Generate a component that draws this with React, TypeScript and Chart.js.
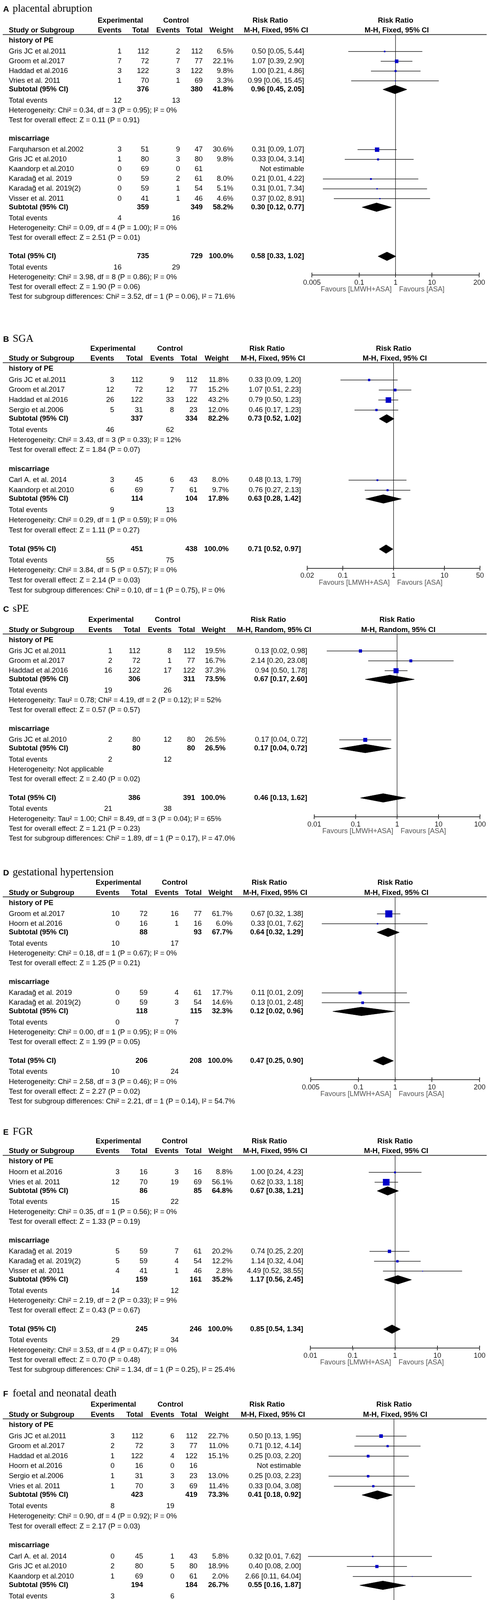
import React, { useEffect, useRef } from 'react';
import { Chart, registerables } from 'chart.js';

Chart.register(...registerables);

const W = 1251;
const SANS = '"Liberation Sans", Arial, Helvetica, sans-serif';
const SERIF = '"Liberation Serif", "Times New Roman", serif';

// Study row: name, exp events, exp total, ctl events, ctl total, weight %, RR, lower, upper
type Study = [string, number, number, number, number, number | null, number | null, number | null, number | null];
// Subtotal: exp total, ctl total, weight %, RR, lower, upper
type Sub = [number, number, number, number, number, number];

const groupNames = ['history of PE', 'miscarriage'];

// ---------- A placental abruption ----------
const aStudies: Study[][] = [
  [
    ['Gris JC et al.2011', 1, 112, 2, 112, 6.5, 0.5, 0.05, 5.44],
    ['Groom et al.2017', 7, 72, 7, 77, 22.1, 1.07, 0.39, 2.9],
    ['Haddad et al.2016', 3, 122, 3, 122, 9.8, 1.0, 0.21, 4.86],
    ['Vries et al. 2011', 1, 70, 1, 69, 3.3, 0.99, 0.06, 15.45],
  ],
  [
    ['Farquharson et al.2002', 3, 51, 9, 47, 30.6, 0.31, 0.09, 1.07],
    ['Gris JC et al.2010', 1, 80, 3, 80, 9.8, 0.33, 0.04, 3.14],
    ['Kaandorp et al.2010', 0, 69, 0, 61, null, null, null, null],
    ['Karadağ et al. 2019', 0, 59, 2, 61, 8.0, 0.21, 0.01, 4.22],
    ['Karadağ et al. 2019(2)', 0, 59, 1, 54, 5.1, 0.31, 0.01, 7.34],
    ['Visser et al. 2011', 0, 41, 1, 46, 4.6, 0.37, 0.02, 8.91],
  ],
];
const aSubtotals: Sub[] = [[376, 380, 41.8, 0.96, 0.45, 2.05], [359, 349, 58.2, 0.3, 0.12, 0.77]];
const aSubEvents = [[12, 13], [4, 16]];
const aSubHet = ['Heterogeneity: Chi² = 0.34, df = 3 (P = 0.95); I² = 0%', 'Heterogeneity: Chi² = 0.09, df = 4 (P = 1.00); I² = 0%'];
const aSubTest = ['Test for overall effect: Z = 0.11 (P = 0.91)', 'Test for overall effect: Z = 2.51 (P = 0.01)'];
const aTotal: Sub = [735, 729, 100, 0.58, 0.33, 1.02];
const aTotalEvents = [16, 29];
const aTotalText = ['Heterogeneity: Chi² = 3.98, df = 8 (P = 0.86); I² = 0%', 'Test for overall effect: Z = 1.90 (P = 0.06)', 'Test for subgroup differences: Chi² = 3.52, df = 1 (P = 0.06), I² = 71.6%'];
const aTicks = [0.005, 0.1, 1, 10, 200];
const aTickLabels = ['0.005', '0.1', '1', '10', '200'];

// ---------- B SGA ----------
const bStudies: Study[][] = [
  [
    ['Gris JC et al.2011', 3, 112, 9, 112, 11.8, 0.33, 0.09, 1.2],
    ['Groom et al.2017', 12, 72, 12, 77, 15.2, 1.07, 0.51, 2.23],
    ['Haddad et al.2016', 26, 122, 33, 122, 43.2, 0.79, 0.5, 1.23],
    ['Sergio et al.2006', 5, 31, 8, 23, 12.0, 0.46, 0.17, 1.23],
  ],
  [
    ['Carl A. et al. 2014', 3, 45, 6, 43, 8.0, 0.48, 0.13, 1.79],
    ['Kaandorp et al.2010', 6, 69, 7, 61, 9.7, 0.76, 0.27, 2.13],
  ],
];
const bSubtotals: Sub[] = [[337, 334, 82.2, 0.73, 0.52, 1.02], [114, 104, 17.8, 0.63, 0.28, 1.42]];
const bSubEvents = [[46, 62], [9, 13]];
const bSubHet = ['Heterogeneity: Chi² = 3.43, df = 3 (P = 0.33); I² = 12%', 'Heterogeneity: Chi² = 0.29, df = 1 (P = 0.59); I² = 0%'];
const bSubTest = ['Test for overall effect: Z = 1.84 (P = 0.07)', 'Test for overall effect: Z = 1.11 (P = 0.27)'];
const bTotal: Sub = [451, 438, 100, 0.71, 0.52, 0.97];
const bTotalEvents = [55, 75];
const bTotalText = ['Heterogeneity: Chi² = 3.84, df = 5 (P = 0.57); I² = 0%', 'Test for overall effect: Z = 2.14 (P = 0.03)', 'Test for subgroup differences: Chi² = 0.10, df = 1 (P = 0.75), I² = 0%'];
const bTicks = [0.02, 0.1, 1, 10, 50];
const bTickLabels = ['0.02', '0.1', '1', '10', '50'];

// ---------- C sPE ----------
const cStudies: Study[][] = [
  [
    ['Gris JC et al.2011', 1, 112, 8, 112, 19.5, 0.13, 0.02, 0.98],
    ['Groom et al.2017', 2, 72, 1, 77, 16.7, 2.14, 0.2, 23.08],
    ['Haddad et al.2016', 16, 122, 17, 122, 37.3, 0.94, 0.5, 1.78],
  ],
  [
    ['Gris JC et al.2010', 2, 80, 12, 80, 26.5, 0.17, 0.04, 0.72],
  ],
];
const cSubtotals: Sub[] = [[306, 311, 73.5, 0.67, 0.17, 2.6], [80, 80, 26.5, 0.17, 0.04, 0.72]];
const cSubEvents = [[19, 26], [2, 12]];
const cSubHet = ['Heterogeneity: Tau² = 0.78; Chi² = 4.19, df = 2 (P = 0.12); I² = 52%', 'Heterogeneity: Not applicable'];
const cSubTest = ['Test for overall effect: Z = 0.57 (P = 0.57)', 'Test for overall effect: Z = 2.40 (P = 0.02)'];
const cTotal: Sub = [386, 391, 100, 0.46, 0.13, 1.62];
const cTotalEvents = [21, 38];
const cTotalText = ['Heterogeneity: Tau² = 1.00; Chi² = 8.49, df = 3 (P = 0.04); I² = 65%', 'Test for overall effect: Z = 1.21 (P = 0.23)', 'Test for subgroup differences: Chi² = 1.89, df = 1 (P = 0.17), I² = 47.0%'];
const cTicks = [0.01, 0.1, 1, 10, 100];
const cTickLabels = ['0.01', '0.1', '1', '10', '100'];

// ---------- D gestational hypertension ----------
const dStudies: Study[][] = [
  [
    ['Groom et al.2017', 10, 72, 16, 77, 61.7, 0.67, 0.32, 1.38],
    ['Hoorn et al.2016', 0, 16, 1, 16, 6.0, 0.33, 0.01, 7.62],
  ],
  [
    ['Karadağ et al. 2019', 0, 59, 4, 61, 17.7, 0.11, 0.01, 2.09],
    ['Karadağ et al. 2019(2)', 0, 59, 3, 54, 14.6, 0.13, 0.01, 2.48],
  ],
];
const dSubtotals: Sub[] = [[88, 93, 67.7, 0.64, 0.32, 1.29], [118, 115, 32.3, 0.12, 0.02, 0.96]];
const dSubEvents = [[10, 17], [0, 7]];
const dSubHet = ['Heterogeneity: Chi² = 0.18, df = 1 (P = 0.67); I² = 0%', 'Heterogeneity: Chi² = 0.00, df = 1 (P = 0.95); I² = 0%'];
const dSubTest = ['Test for overall effect: Z = 1.25 (P = 0.21)', 'Test for overall effect: Z = 1.99 (P = 0.05)'];
const dTotal: Sub = [206, 208, 100, 0.47, 0.25, 0.9];
const dTotalEvents = [10, 24];
const dTotalText = ['Heterogeneity: Chi² = 2.58, df = 3 (P = 0.46); I² = 0%', 'Test for overall effect: Z = 2.27 (P = 0.02)', 'Test for subgroup differences: Chi² = 2.21, df = 1 (P = 0.14), I² = 54.7%'];
const dTicks = [0.005, 0.1, 1, 10, 200];
const dTickLabels = ['0.005', '0.1', '1', '10', '200'];

// ---------- E FGR ----------
const eStudies: Study[][] = [
  [
    ['Hoorn et al.2016', 3, 16, 3, 16, 8.8, 1.0, 0.24, 4.23],
    ['Vries et al. 2011', 12, 70, 19, 69, 56.1, 0.62, 0.33, 1.18],
  ],
  [
    ['Karadağ et al. 2019', 5, 59, 7, 61, 20.2, 0.74, 0.25, 2.2],
    ['Karadağ et al. 2019(2)', 5, 59, 4, 54, 12.2, 1.14, 0.32, 4.04],
    ['Visser et al. 2011', 4, 41, 1, 46, 2.8, 4.49, 0.52, 38.55],
  ],
];
const eSubtotals: Sub[] = [[86, 85, 64.8, 0.67, 0.38, 1.21], [159, 161, 35.2, 1.17, 0.56, 2.45]];
const eSubEvents = [[15, 22], [14, 12]];
const eSubHet = ['Heterogeneity: Chi² = 0.35, df = 1 (P = 0.56); I² = 0%', 'Heterogeneity: Chi² = 2.19, df = 2 (P = 0.33); I² = 9%'];
const eSubTest = ['Test for overall effect: Z = 1.33 (P = 0.19)', 'Test for overall effect: Z = 0.43 (P = 0.67)'];
const eTotal: Sub = [245, 246, 100, 0.85, 0.54, 1.34];
const eTotalEvents = [29, 34];
const eTotalText = ['Heterogeneity: Chi² = 3.53, df = 4 (P = 0.47); I² = 0%', 'Test for overall effect: Z = 0.70 (P = 0.48)', 'Test for subgroup differences: Chi² = 1.34, df = 1 (P = 0.25), I² = 25.4%'];
const eTicks = [0.01, 0.1, 1, 10, 100];
const eTickLabels = ['0.01', '0.1', '1', '10', '100'];

// ---------- F foetal and neonatal death ----------
const fStudies: Study[][] = [
  [
    ['Gris JC et al.2011', 3, 112, 6, 112, 22.7, 0.5, 0.13, 1.95],
    ['Groom et al.2017', 2, 72, 3, 77, 11.0, 0.71, 0.12, 4.14],
    ['Haddad et al.2016', 1, 122, 4, 122, 15.1, 0.25, 0.03, 2.2],
    ['Hoorn et al.2016', 0, 16, 0, 16, null, null, null, null],
    ['Sergio et al.2006', 1, 31, 3, 23, 13.0, 0.25, 0.03, 2.23],
    ['Vries et al. 2011', 1, 70, 3, 69, 11.4, 0.33, 0.04, 3.08],
  ],
  [
    ['Carl A. et al. 2014', 0, 45, 1, 43, 5.8, 0.32, 0.01, 7.62],
    ['Gris JC et al.2010', 2, 80, 5, 80, 18.9, 0.4, 0.08, 2.0],
    ['Kaandorp et al.2010', 1, 69, 0, 61, 2.0, 2.66, 0.11, 64.04],
  ],
];
const fSubtotals: Sub[] = [[423, 419, 73.3, 0.41, 0.18, 0.92], [194, 184, 26.7, 0.55, 0.16, 1.87]];
const fSubEvents = [[8, 19], [3, 6]];
const fSubHet = ['Heterogeneity: Chi² = 0.90, df = 4 (P = 0.92); I² = 0%', 'Heterogeneity: Chi² = 1.21, df = 2 (P = 0.55); I² = 0%'];
const fSubTest = ['Test for overall effect: Z = 2.17 (P = 0.03)', 'Test for overall effect: Z = 0.95 (P = 0.34)'];
const fTotal: Sub = [617, 603, 100, 0.45, 0.23, 0.88];
const fTotalEvents = [11, 25];
const fTotalText = ['Heterogeneity: Chi² = 2.19, df = 7 (P = 0.95); I² = 0%', 'Test for overall effect: Z = 2.35 (P = 0.02)', 'Test for subgroup differences: Chi² = 0.16, df = 1 (P = 0.69), I² = 0%'];
const fTicks = [0.01, 0.1, 1, 10, 100];
const fTickLabels = ['0.01', '0.1', '1', '10', '100'];

// ---------- G HELLP syndrome ----------
const gStudies: Study[][] = [
  [
    ['Gris JC et al.2011', 1, 112, 3, 112, 23.0, 0.33, 0.04, 3.16],
    ['Groom et al.2017', 1, 72, 2, 77, 14.8, 0.53, 0.05, 5.77],
    ['Haddad et al.2016', 2, 122, 2, 122, 15.3, 1.0, 0.14, 6.99],
    ['Hoorn et al.2016', 0, 16, 1, 16, 11.5, 0.33, 0.01, 7.62],
    ['Vries et al. 2011', 2, 70, 3, 69, 23.2, 0.66, 0.11, 3.81],
  ],
  [
    ['Kaandorp et al.2010', 0, 69, 1, 61, 12.2, 0.3, 0.01, 7.12],
  ],
];
const gSubtotals: Sub[] = [[392, 396, 87.8, 0.57, 0.22, 1.47], [69, 61, 12.2, 0.3, 0.01, 7.12]];
const gSubEvents = [[6, 11], [0, 1]];
const gSubHet = ['Heterogeneity: Chi² = 0.68, df = 4 (P = 0.95); I² = 0%', 'Heterogeneity: Not applicable'];
const gSubTest = ['Test for overall effect: Z = 1.16 (P = 0.25)', 'Test for overall effect: Z = 0.75 (P = 0.45)'];
const gTotal: Sub = [461, 457, 100, 0.54, 0.22, 1.33];
const gTotalEvents = [6, 12];
const gTotalText = ['Heterogeneity: Chi² = 0.84, df = 5 (P = 0.97); I² = 0%', 'Test for overall effect: Z = 1.35 (P = 0.18)', 'Test for subgroup differences: Chi² = 0.15, df = 1 (P = 0.70), I² = 0%'];
const gTicks = [0.001, 0.1, 1, 10, 1000];
const gTickLabels = ['0.001', '0.1', '1', '10', '1000'];

// ---------- panel layout (positions only) ----------
const panels: any[] = [
  { letter: 'A', title: 'placental abruption', method: 'Fixed', studies: aStudies, subtotals: aSubtotals, subEvents: aSubEvents, subHet: aSubHet, subTest: aSubTest, total: aTotal, totalEvents: aTotalEvents, totalText: aTotalText, ticks: aTicks, tickLabels: aTickLabels,
    top: 0, h: 838, R: 88.5, s: 0.988, titleY: 22.3, cols: [311, 381, 460.5, 518.5, 597, 778], plot: [798, 1226] },
  { letter: 'B', title: 'SGA', method: 'Fixed', studies: bStudies, subtotals: bSubtotals, subEvents: bSubEvents, subHet: bSubHet, subTest: bSubTest, total: bTotal, totalEvents: bTotalEvents, totalText: bTotalText, ticks: bTicks, tickLabels: bTickLabels,
    top: 838, h: 695, R: 928.6, s: 1.0086, titleY: 867.4, cols: [292, 365.5, 445, 505, 585, 770], plot: [786, 1228] },
  { letter: 'C', title: 'sPE', method: 'Random', studies: cStudies, subtotals: cSubtotals, subEvents: cSubEvents, subHet: cSubHet, subTest: cSubTest, total: cTotal, totalEvents: cTotalEvents, totalText: cTotalText, ticks: cTicks, tickLabels: cTickLabels,
    top: 1533, h: 673, R: 1623, s: 0.994, titleY: 1558, cols: [287, 359, 439, 499, 577, 786], plot: [804, 1228] },
  { letter: 'D', title: 'gestational hypertension', method: 'Fixed', studies: dStudies, subtotals: dSubtotals, subEvents: dSubEvents, subHet: dSubHet, subTest: dSubTest, total: dTotal, totalEvents: dTotalEvents, totalText: dTotalText, ticks: dTicks, tickLabels: dTickLabels,
    top: 2206, h: 661, R: 2296, s: 0.994, titleY: 2233.8, cols: [305.7, 377.5, 457, 516, 594.6, 775.7], plot: [795, 1227] },
  { letter: 'E', title: 'FGR', method: 'Fixed', studies: eStudies, subtotals: eSubtotals, subEvents: eSubEvents, subHet: eSubHet, subTest: eSubTest, total: eTotal, totalEvents: eTotalEvents, totalText: eTotalText, ticks: eTicks, tickLabels: eTickLabels,
    top: 2867, h: 675, R: 2957.8, s: 0.994, titleY: 2897, cols: [305.7, 377.5, 457, 516, 594.6, 775.7], plot: [794, 1227] },
  { letter: 'F', title: 'foetal and neonatal death', method: 'Fixed', studies: fStudies, subtotals: fSubtotals, subEvents: fSubEvents, subHet: fSubHet, subTest: fSubTest, total: fTotal, totalEvents: fTotalEvents, totalText: fTotalText, ticks: fTicks, tickLabels: fTickLabels,
    top: 3542, h: 809, R: 3632.2, s: 1.0099, titleY: 3567.6, cols: [293, 366, 446, 505, 585, 770], plot: [788, 1228] },
  { letter: 'G', title: 'HELLP syndrome', method: 'Fixed', studies: gStudies, subtotals: gSubtotals, subEvents: gSubEvents, subHet: gSubHet, subTest: gSubTest, total: gTotal, totalEvents: gTotalEvents, totalText: gTotalText, ticks: gTicks, tickLabels: gTickLabels,
    top: 4351, h: 689, R: 4441.4, s: 1.0065, titleY: 4380, cols: [293, 366, 446, 505, 585, 770], plot: [788, 1228] },
];

function layoutRows(p: any) {
  const s = p.s;
  const Rl = p.R - p.top;
  const out: any = { R: Rl, labels: [], studies: [], subtotal: [], events: [], het: [], test: [] };
  let y = Rl + 15.5 * s;
  let prevTest = 0;
  p.studies.forEach((list: Study[], gi: number) => {
    if (gi > 0) y = prevTest + 48 * s;
    out.labels.push(y);
    const sy = y + 28.3 * s;
    const ys = list.map((_, j) => sy + j * 25.4 * s);
    out.studies.push(ys);
    const sub = ys[ys.length - 1] + 22.3 * s;
    out.subtotal.push(sub);
    const ev = sub + 28.7 * s;
    out.events.push(ev);
    const het = ev + 25.4 * s;
    out.het.push(het);
    const test = het + 25.4 * s;
    out.test.push(test);
    prevTest = test;
  });
  out.total = prevTest + 47.7 * s;
  out.tEvents = out.total + 28.7 * s;
  out.tHet = out.tEvents + 25.4 * s;
  out.tTest = out.tHet + 25.4 * s;
  out.tSub = out.tTest + 25.4 * s;
  out.axis = out.tHet - 5.6 * s;
  return out;
}

const rrText = (rr: number, lo: number, hi: number) => `${rr.toFixed(2)} [${lo.toFixed(2)}, ${hi.toFixed(2)}]`;
const boxSide = (w: number) => Math.max(2, 1.1 * Math.pow(w, 0.68));

function drawTable(chart: any, p: any, L: any) {
  const ctx: CanvasRenderingContext2D = chart.ctx;
  const ys = chart.scales.y;
  const xs = chart.scales.x;
  const Y = (v: number) => ys.getPixelForValue(v);
  const [cE, cT, kE, kT, cW, cR] = p.cols;
  const x1 = xs.getPixelForValue(1);
  const REG = `18.5px ${SANS}`;
  const BOLD = `bold 18.5px ${SANS}`;
  ctx.save();
  ctx.fillStyle = '#000';
  const txt = (s: string, x: number, y: number, align: CanvasTextAlign, bold = false) => {
    ctx.font = bold ? BOLD : REG;
    ctx.textAlign = align;
    ctx.textBaseline = 'middle';
    ctx.fillText(s, x, Y(y));
  };

  // title
  const ty = p.titleY - p.top;
  ctx.textBaseline = 'alphabetic';
  ctx.textAlign = 'left';
  ctx.font = `bold 21px ${SANS}`;
  ctx.fillText(p.letter, 8, Y(ty) + 7.5);
  ctx.font = `26.5px ${SERIF}`;
  ctx.fillText(p.title, 32.5, Y(ty) + 7.5);

  // headers
  const Rl = L.R;
  const h1 = Rl - 36;
  const h2 = Rl - 10.5;
  const mh = `M-H, ${p.method}, 95% CI`;
  ctx.font = BOLD;
  const mhW = ctx.measureText(mh).width;
  const mhC = cR + 10.5 - mhW / 2;
  txt('Experimental', cE - 61, h1, 'left', true);
  txt('Control', kE - 43, h1, 'left', true);
  txt('Risk Ratio', mhC - 15, h1, 'center', true);
  txt('Risk Ratio', x1, h1, 'center', true);
  txt('Study or Subgroup', 22.5, h2, 'left', true);
  txt('Events', cE, h2, 'right', true);
  txt('Total', cT, h2, 'right', true);
  txt('Events', kE, h2, 'right', true);
  txt('Total', kT, h2, 'right', true);
  txt('Weight', cW, h2, 'right', true);
  txt(mh, cR + 10.5, h2, 'right', true);
  txt(mh, x1 + 3, h2, 'center', true);

  // header rule
  ctx.strokeStyle = '#333';
  ctx.lineWidth = 2;
  ctx.beginPath();
  ctx.moveTo(7, Y(Rl));
  ctx.lineTo(1245, Y(Rl));
  ctx.stroke();

  // subgroups
  p.studies.forEach((list: Study[], gi: number) => {
    txt(groupNames[gi], 22.5, L.labels[gi], 'left', true);
    list.forEach((st, j) => {
      const y = L.studies[gi][j];
      txt(st[0], 22.5, y, 'left');
      txt(String(st[1]), cE, y, 'right');
      txt(String(st[2]), cT, y, 'right');
      txt(String(st[3]), kE, y, 'right');
      txt(String(st[4]), kT, y, 'right');
      if (st[5] != null) txt(`${st[5].toFixed(1)}%`, cW, y, 'right');
      if (st[6] != null) txt(rrText(st[6], st[7] as number, st[8] as number), cR, y, 'right');
      else txt('Not estimable', cR, y, 'right');
    });
    const sb = p.subtotals[gi];
    const sy = L.subtotal[gi];
    txt('Subtotal (95% CI)', 22.5, sy, 'left', true);
    txt(String(sb[0]), cT, sy, 'right', true);
    txt(String(sb[1]), kT, sy, 'right', true);
    txt(`${sb[2].toFixed(1)}%`, cW, sy, 'right', true);
    txt(rrText(sb[3], sb[4], sb[5]), cR, sy, 'right', true);
    txt('Total events', 22.5, L.events[gi], 'left');
    txt(String(p.subEvents[gi][0]), cE, L.events[gi], 'right');
    txt(String(p.subEvents[gi][1]), kE, L.events[gi], 'right');
    txt(p.subHet[gi], 22.5, L.het[gi], 'left');
    txt(p.subTest[gi], 22.5, L.test[gi], 'left');
  });

  // overall
  const t = p.total;
  txt('Total (95% CI)', 22.5, L.total, 'left', true);
  txt(String(t[0]), cT, L.total, 'right', true);
  txt(String(t[1]), kT, L.total, 'right', true);
  txt(`${t[2].toFixed(1)}%`, cW, L.total, 'right', true);
  txt(rrText(t[3], t[4], t[5]), cR, L.total, 'right', true);
  txt('Total events', 22.5, L.tEvents, 'left');
  txt(String(p.totalEvents[0]), cE, L.tEvents, 'right');
  txt(String(p.totalEvents[1]), kE, L.tEvents, 'right');
  txt(p.totalText[0], 22.5, L.tHet, 'left');
  txt(p.totalText[1], 22.5, L.tTest, 'left');
  txt(p.totalText[2], 22.5, L.tSub, 'left');

  // upper half of axis tick marks
  ctx.strokeStyle = '#333';
  ctx.lineWidth = 2;
  const ay = Y(L.axis);
  xs.ticks.forEach((tk: any) => {
    const px = Math.round(xs.getPixelForValue(tk.value));
    ctx.beginPath();
    ctx.moveTo(px, ay - 6);
    ctx.lineTo(px, ay);
    ctx.stroke();
  });

  // favours labels
  ctx.font = `18px ${SANS}`;
  ctx.fillStyle = '#555';
  ctx.textBaseline = 'middle';
  ctx.textAlign = 'right';
  ctx.fillText('Favours [LMWH+ASA]', x1 - 10, ay + 37);
  ctx.textAlign = 'left';
  ctx.fillText('Favours [ASA]', x1 + 9, ay + 37);
  ctx.restore();
}

function buildConfig(p: any) {
  const L = layoutRows(p);
  const ci: any[] = [];
  const sq: any[] = [];
  p.studies.forEach((list: Study[], gi: number) =>
    list.forEach((st, j) => {
      const y = L.studies[gi][j];
      if (st[6] != null) {
        ci.push({ x: st[7], y }, { x: st[8], y }, { x: st[8], y: null });
        sq.push({ x: st[6], y, w: st[5] });
      }
    })
  );
  const dia = (sb: Sub, y: number) => [
    { x: sb[4], y },
    { x: sb[3], y: y - 11 },
    { x: sb[5], y },
    { x: sb[3], y: y + 11 },
    { x: sb[4], y },
  ];
  const diamonds = [...p.subtotals.map((sb: Sub, gi: number) => dia(sb, L.subtotal[gi])), dia(p.total, L.total)];
  const ticks: number[] = p.ticks;
  const labels: string[] = p.tickLabels;

  return {
    type: 'line',
    data: {
      datasets: [
        {
          data: sq,
          showLine: false,
          pointStyle: 'rect',
          pointRadius: (c: any) => (c.raw && c.raw.w ? boxSide(c.raw.w) / Math.SQRT2 : 0),
          pointBackgroundColor: '#0000C8',
          pointBorderWidth: 0,
          order: 0,
        },
        {
          data: ci,
          showLine: true,
          spanGaps: false,
          borderColor: '#1a1a1a',
          borderWidth: 1.5,
          pointRadius: 0,
          tension: 0,
          fill: false,
          order: 1,
        },
        ...diamonds.map((d: any) => ({
          data: d,
          showLine: true,
          borderColor: '#000',
          borderWidth: 1,
          backgroundColor: '#000',
          fill: 'shape',
          pointRadius: 0,
          tension: 0,
          order: 2,
        })),
      ],
    },
    options: {
      responsive: false,
      animation: false,
      events: [],
      layout: { padding: { left: p.plot[0], right: W - p.plot[1], top: L.R, bottom: 0 } },
      plugins: { legend: { display: false }, tooltip: { enabled: false }, title: { display: false } },
      scales: {
        x: {
          type: 'logarithmic',
          position: 'bottom',
          min: ticks[0],
          max: ticks[ticks.length - 1],
          afterBuildTicks: (s: any) => {
            s.ticks = ticks.map((v) => ({ value: v }));
          },
          afterFit: (s: any) => {
            s.height = p.h - L.axis;
          },
          ticks: {
            autoSkip: false,
            maxRotation: 0,
            minRotation: 0,
            padding: 3,
            color: '#222',
            font: { family: SANS, size: 18 },
            callback: (v: any) => {
              const i = ticks.indexOf(Number(v));
              return i >= 0 ? labels[i] : '';
            },
          },
          grid: {
            color: (c: any) => (c.tick && c.tick.value === 1 ? '#333' : 'rgba(0,0,0,0)'),
            lineWidth: 1.5,
            tickColor: '#333',
            tickWidth: 2,
            tickLength: 6,
            drawTicks: true,
          },
          border: { display: true, color: '#333', width: 2 },
        },
        y: { type: 'linear', display: false, reverse: true, min: L.R, max: L.axis },
      },
    },
    plugins: [{ id: 'forestTable' + p.letter, afterDraw: (chart: any) => drawTable(chart, p, L) }],
  };
}

function Panel({ p }: { p: any }) {
  const ref = useRef<HTMLCanvasElement>(null);
  useEffect(() => {
    const chart = new Chart(ref.current as HTMLCanvasElement, buildConfig(p) as any);
    return () => chart.destroy();
  }, [p]);
  return (
    <canvas
      ref={ref}
      width={W}
      height={p.h}
      style={{ position: 'absolute', left: 0, top: p.top, width: W, height: p.h, display: 'block' }}
    />
  );
}

export default function App() {
  return (
    <div style={{ position: 'absolute', left: 0, top: 0, width: W, height: 5040, background: '#fff', overflow: 'hidden' }}>
      {panels.map((p) => (
        <Panel key={p.letter} p={p} />
      ))}
    </div>
  );
}
